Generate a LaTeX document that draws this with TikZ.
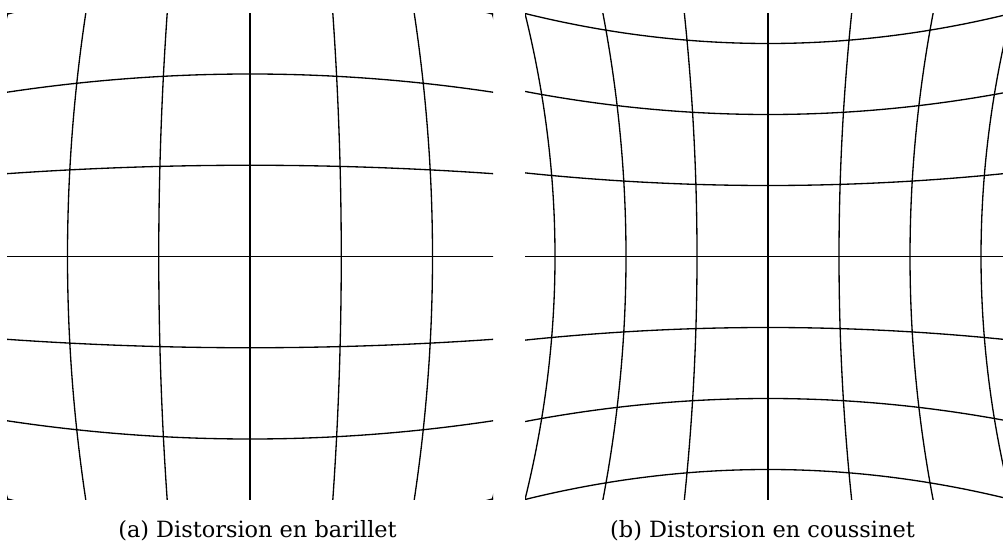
\documentclass[tikz,border=0pt]{standalone}
\usepackage{fontspec}
\setmainfont{DejaVu Serif}
\begin{document}
\begin{tikzpicture}[x=0.02cm,y=-0.02cm,
  gridline/.style={line width=0.75pt, black},
  capstyle/.style={font=\fontsize{12.75}{15}\selectfont, anchor=base, inner sep=0pt}]
\useasboundingbox (0,0) rectangle (1003,550);
% barrel distortion
\begin{scope}
\clip (7,14) rectangle (493,499);
\foreach \u in {-3,...,3} {
  \draw[gridline] plot[variable=\t, domain=-3.3:3.3, samples=67, smooth]
    ({250+91.25*\u*(1-0.0127*\t*\t)}, {256.5+91.25*\t*(1-0.0127*\u*\u)});
  \draw[gridline] plot[variable=\t, domain=-3.3:3.3, samples=67, smooth]
    ({250+91.25*\t*(1-0.0127*\u*\u)}, {256.5+91.25*\u*(1-0.0127*\t*\t)});
}
\end{scope}
% pincushion distortion
\begin{scope}
\clip (525,14) rectangle (1003,499);
\foreach \u in {-3,...,3} {
  \draw[gridline] plot[variable=\t, domain=-3.5:3.5, samples=71, smooth]
    ({768+71*\u*(1+0.01565*\t*\t)}, {256.5+71*\t*(1+0.01565*\u*\u)});
  \draw[gridline] plot[variable=\t, domain=-3.5:3.5, samples=71, smooth]
    ({768+71*\t*(1+0.01565*\u*\u)}, {256.5+71*\u*(1+0.01565*\t*\t)});
}
\end{scope}
\node[capstyle] (capa) at (257.5,537) {(a) Distorsion en barillet};
\node[capstyle] (capb) at (762.5,537) {(b) Distorsion en coussinet};
\end{tikzpicture}
\end{document}
